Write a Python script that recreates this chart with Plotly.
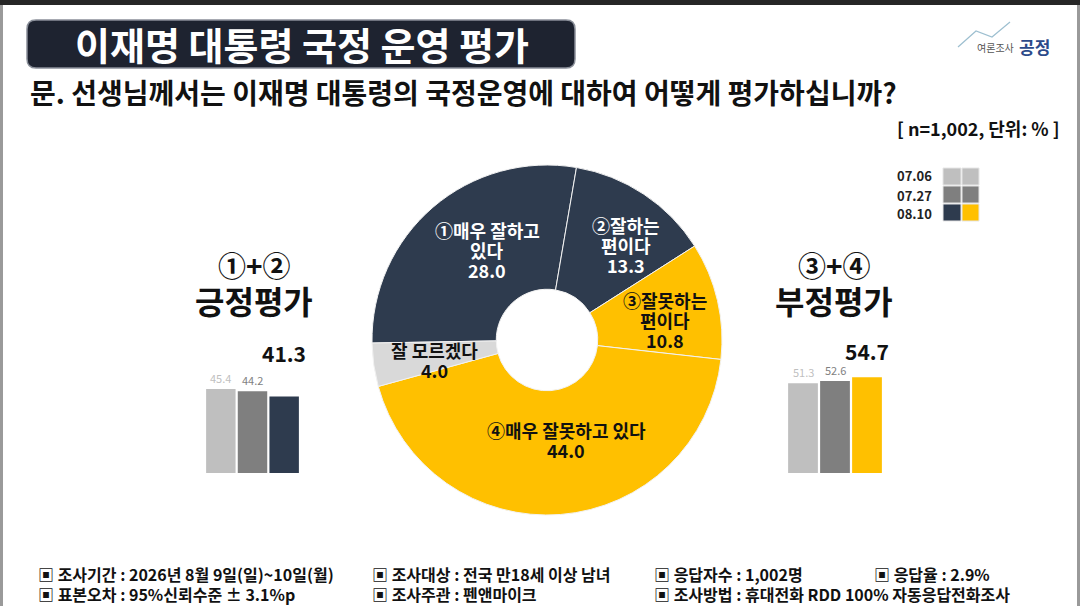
import plotly.graph_objects as go

# ---- dados ----
fatias = ['①매우 잘하고<br>있다', '②잘하는<br>편이다', '③잘못하는<br>편이다', '④매우 잘못하고 있다', '잘 모르겠다']
valores = [28.0, 13.3, 10.8, 44.0, 4.0]

datas = ['07.06', '07.27', '08.10']
positivo = [45.4, 44.2, 41.3]
negativo = [51.3, 52.6, 54.7]

rodape = [
    ['▣ 조사기간 : 2026년 8월 9일(일)~10일(월)', '▣ 조사대상 : 전국 만18세 이상 남녀',
     '▣ 응답자수 : 1,002명', '▣ 응답율 : 2.9%'],
    ['▣ 표본오차 : 95%신뢰수준 ± 3.1%p', '▣ 조사주관 : 펜앤마이크',
     '▣ 조사방법 : 휴대전화 RDD 100% 자동응답전화조사'],
]

W, H = 1080, 606
FONT = 'Noto Sans CJK KR'
NAVY = '#2E3B4E'
AMARELO = '#FFC000'
CINZA_CLARO = '#BFBFBF'
CINZA = '#7F7F7F'


def px(x):
    return x / W


def py(y):
    return 1 - y / H


def texto(x, y, txt, size, cor='#111', xanchor='center', **kw):
    # annotation em coordenadas de pixel da página
    return dict(x=px(x), y=py(y), xref='paper', yref='paper', showarrow=False,
                xanchor=xanchor, yanchor='middle', text=txt,
                font=dict(size=size, color=cor, family=FONT), **kw)


fig = go.Figure()

# donut
fig.add_trace(go.Pie(
    labels=fatias, values=valores, hole=0.29, sort=False,
    direction='clockwise', rotation=269, textinfo='none',
    marker=dict(colors=[NAVY, NAVY, AMARELO, AMARELO, '#D9D9D9'],
                line=dict(color='#F2F2F2', width=1)),
    domain=dict(x=[px(372), px(722)], y=[py(515), py(165)]),
    showlegend=False,
))

# barras
cores_pos = [CINZA_CLARO, CINZA, NAVY]
cores_neg = [CINZA_CLARO, CINZA, AMARELO]
fig.add_trace(go.Bar(x=datas, y=positivo, marker=dict(color=cores_pos, line=dict(width=0)),
                     xaxis='x', yaxis='y', showlegend=False))
fig.add_trace(go.Bar(x=datas, y=negativo, marker=dict(color=cores_neg, line=dict(width=0)),
                     xaxis='x2', yaxis='y2', showlegend=False))

eixo_off = dict(visible=False, fixedrange=True)
fig.update_layout(
    width=W, height=H, margin=dict(l=0, r=0, t=0, b=0),
    paper_bgcolor='white', plot_bgcolor='rgba(0,0,0,0)',
    bargap=0.07, barmode='group',
    font=dict(family=FONT, color='#111'),
    xaxis=dict(domain=[px(205), px(300)], type='category', range=[-0.5, 2.5], **eixo_off),
    yaxis=dict(domain=[py(473), py(362)], range=[0, 60], **eixo_off),
    xaxis2=dict(domain=[px(787), px(883)], type='category', range=[-0.5, 2.5], **eixo_off),
    yaxis2=dict(domain=[py(473), py(368)], range=[0, 60], **eixo_off),
)

anot = []

# rótulos das barras (x = índice da categoria)
cores_txt = [CINZA_CLARO, CINZA]
for eixo, serie, y_grande in [('', positivo, 353), ('2', negativo, 351)]:
    for i, v in enumerate(serie):
        if i < 2:
            anot.append(dict(x=i, y=v, xref='x' + eixo, yref='y' + eixo, text=f'{v:.1f}',
                             showarrow=False, xanchor='center', yanchor='bottom', yshift=1,
                             font=dict(size=11, color=cores_txt[i], family=FONT)))
        else:
            anot.append(dict(x=i, y=py(y_grande), xref='x' + eixo, yref='paper', text=f'<b>{v:.1f}</b>',
                             showarrow=False, xanchor='center', yanchor='middle',
                             font=dict(size=21, color='#111', family=FONT)))

# rótulos do donut (uma annotation por linha, entrelinha de 20px)
pos_rot = [(487, 230), (626, 225), (665, 300), (566, 430), (434, 350)]
cor_rot = ['white', 'white', '#111', '#111', '#111']
for nome, v, (x, y), c in zip(fatias, valores, pos_rot, cor_rot):
    linhas = nome.split('<br>') + [f'{v:.1f}']
    for k, lin in enumerate(linhas):
        anot.append(texto(x, y + 20 * k, f'<b>{lin}</b>', 18, c))

# títulos laterais
for x, topo, nome in [(254, '①+②', '긍정평가'), (834, '③+④', '부정평가')]:
    anot.append(texto(x, 265, f'<b>{topo}</b>', 28))
    anot.append(texto(x, 300, f'<b>{nome}</b>', 32))

# título e pergunta
anot.append(texto(302, 44, '<b>이재명 대통령 국정 운영 평가</b>', 38, 'white'))
anot.append(texto(28, 92, '<b>문. 선생님께서는 이재명 대통령의 국정운영에 대하여 어떻게 평가하십니까?</b>',
                  28, xanchor='left'))
anot.append(texto(1062, 128, '<b>[ n=1,002, 단위: % ]</b>', 18, xanchor='right'))

# logo
anot.append(texto(1016, 48, '여론조사', 10, '#555', xanchor='right'))
anot.append(texto(1017, 46, '<b>공정</b>', 17, '#2C4A8A', xanchor='left'))

# legenda de datas
for d, y in zip(datas, [176, 195, 213]):
    anot.append(texto(934, y, f'<b>{d}</b>', 13, '#222', xanchor='right'))

# rodapé
col_x = [[36, 370, 652, 872], [36, 370, 652]]
for linha, xs, y in zip(rodape, col_x, [574, 594]):
    for txt, x in zip(linha, xs):
        anot.append(texto(x, y, f'<b>{txt}</b>', 16, xanchor='left'))

fig.update_layout(annotations=anot)

# formas: moldura, faixa do título, logo, quadrados da legenda
shapes = [
    dict(type='rect', xref='paper', yref='paper', x0=0, x1=1, y0=py(5), y1=1,
         fillcolor='#262626', line=dict(width=0)),
    dict(type='line', xref='paper', yref='paper', x0=px(1.5), x1=px(1.5), y0=0, y1=py(5),
         line=dict(color='#9a9a9a', width=3)),
    dict(type='line', xref='paper', yref='paper', x0=px(1078.5), x1=px(1078.5), y0=0, y1=py(5),
         line=dict(color='#9a9a9a', width=3)),
    dict(type='path', xref='paper', yref='paper', layer='below',
         path=(f'M {px(36)},{py(20)} L {px(566)},{py(20)} Q {px(575)},{py(20)} {px(575)},{py(29)} '
               f'L {px(575)},{py(59)} Q {px(575)},{py(68)} {px(566)},{py(68)} '
               f'L {px(36)},{py(68)} Q {px(27)},{py(68)} {px(27)},{py(59)} '
               f'L {px(27)},{py(29)} Q {px(27)},{py(20)} {px(36)},{py(20)} Z'),
         fillcolor='#1E2330', line=dict(color='#8a8f99', width=1.5)),
    dict(type='path', xref='paper', yref='paper',
         path=f'M {px(958)},{py(47)} L {px(976)},{py(31)} L {px(992)},{py(37)} L {px(1010)},{py(22)}',
         line=dict(color='#9DBFD0', width=1.2)),
]
linhas_leg = [(168, 185, CINZA_CLARO, CINZA_CLARO), (186, 203, CINZA, CINZA), (204, 221, NAVY, AMARELO)]
for y0, y1, c1, c2 in linhas_leg:
    shapes.append(dict(type='rect', xref='paper', yref='paper', x0=px(943), x1=px(961),
                       y0=py(y1), y1=py(y0), fillcolor=c1, line=dict(color='#E6E6E6', width=1)))
    shapes.append(dict(type='rect', xref='paper', yref='paper', x0=px(962), x1=px(979),
                       y0=py(y1), y1=py(y0), fillcolor=c2, line=dict(color='#E6E6E6', width=1)))
fig.update_layout(shapes=shapes)

fig.write_html('out.html', config={'displayModeBar': False},
               post_script="document.body.style.margin='0';")
